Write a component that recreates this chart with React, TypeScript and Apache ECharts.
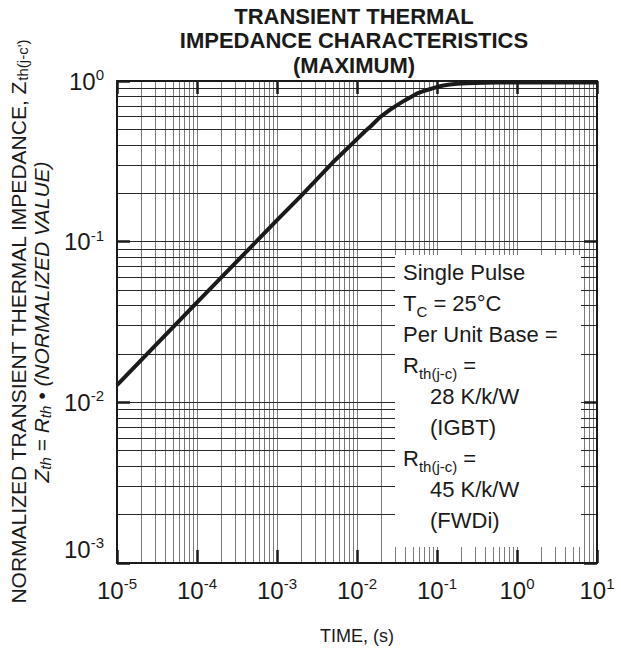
import React, { useEffect, useRef } from "react";
import * as echarts from "echarts";

// ---- data ----
const timeS = [
  1e-5, 1e-4, 1e-3, 2e-3, 5e-3, 8.6e-3, 0.0125, 0.015, 0.0194, 0.025, 0.0313, 0.04, 0.0557, 0.07, 0.099,
  0.12, 0.145, 0.18, 0.235, 0.3, 0.4, 0.61, 1, 10,
];
const zthNorm = [
  0.0128, 0.0419, 0.136, 0.193, 0.312, 0.405, 0.485, 0.525, 0.596, 0.655, 0.705, 0.76, 0.834, 0.87, 0.917,
  0.937, 0.95, 0.96, 0.967, 0.971, 0.975, 0.978, 0.98, 0.98,
];

const xMin = 1e-5;
const xMax = 10;
const yMin = 1e-3;
const yMax = 1;
const xDecadeExps = [-5, -4, -3, -2, -1, 0];
const yDecadeExps = [-3, -2, -1];
const gridMultipliers = [1, 2, 3, 4, 5, 6, 7, 8, 9];

const titleLines = ["TRANSIENT THERMAL", "IMPEDANCE CHARACTERISTICS", "(MAXIMUM)"];
const xAxisName = "TIME, (s)";

const FONT = "'Liberation Sans', Arial, Helvetica, sans-serif";
const INK = "#1a1a1a";

function expOf(v: number) {
  return Math.round(Math.log10(v));
}

function gridValues(exps: number[], lo: number, hi: number) {
  const out: number[] = [];
  exps.forEach((e) => {
    gridMultipliers.forEach((m) => {
      const v = m * Math.pow(10, e);
      if (v > lo * 1.0001 && v < hi * 0.9999) out.push(v);
    });
  });
  return out;
}

export default function App() {
  const ref = useRef<HTMLDivElement>(null);

  useEffect(() => {
    if (!ref.current) return;
    const chart = echarts.init(ref.current, undefined, { renderer: "svg" });

    const labelRich = {
      b: { fontSize: 24, lineHeight: 28, color: INK, fontFamily: FONT },
      s: { fontSize: 15, lineHeight: 15, color: INK, fontFamily: FONT, verticalAlign: "top" },
      gap: { fontSize: 10, lineHeight: 28, color: INK, fontFamily: FONT },
    };

    const vLines = gridValues(xDecadeExps, xMin, xMax).map((v) => ({
      xAxis: v,
      lineStyle: { color: "#7a7a7a", width: 1, type: "solid" },
    }));
    const hLines = gridValues(yDecadeExps, yMin, yMax).map((v) => ({
      yAxis: v,
      lineStyle: { color: "#2a2a2a", width: 1, type: "solid" },
    }));

    const commonX = {
      type: "log",
      logBase: 10,
      min: xMin,
      max: xMax,
      splitNumber: 6,
      z: 4,
      splitLine: { show: false },
      minorTick: { show: false },
      axisLine: { show: true, lineStyle: { color: INK, width: 2 } },
      axisTick: { show: true, inside: true, length: 13, lineStyle: { color: INK, width: 2.5 } },
    };
    const commonY = {
      type: "log",
      logBase: 10,
      min: yMin,
      max: yMax,
      splitNumber: 3,
      z: 4,
      splitLine: { show: false },
      minorTick: { show: false },
      axisLine: { show: true, lineStyle: { color: INK, width: 2 } },
      axisTick: { show: true, inside: true, length: 13, lineStyle: { color: INK, width: 2.5 } },
    };

    const legendText = [
      "{t|Single Pulse}",
      "{t|T}{sub|C}{t| = 25°C}",
      "{t|Per Unit Base =}",
      "{t|R}{sub|th(j-c)}{t| =}",
      "{ind|28 K/k/W}",
      "{ind|(IGBT)}",
      "{t|R}{sub|th(j-c)}{t| =}",
      "{ind|45 K/k/W}",
      "{ind|(FWDi)}",
    ].join("\n");

    chart.setOption({
      animation: false,
      backgroundColor: "#ffffff",
      textStyle: { fontFamily: FONT },
      grid: { left: 117, top: 81, width: 480, height: 482, containLabel: false },
      xAxis: [
        {
          ...commonX,
          position: "bottom",
          name: xAxisName,
          nameLocation: "middle",
          nameGap: 64,
          nameTextStyle: { fontSize: 18, color: INK, fontFamily: FONT },
          axisLabel: {
            show: true,
            margin: 13,
            formatter: (v: number) => `{b|10}{s|${expOf(v)}}`,
            rich: labelRich,
          },
        },
        {
          ...commonX,
          position: "top",
          axisLabel: { show: false },
        },
      ],
      yAxis: [
        {
          ...commonY,
          position: "left",
          name:
            "{n|NORMALIZED TRANSIENT THERMAL IMPEDANCE, Z}{ns|th(j-c')}\n" +
            "{i|Z}{is|th}{i| = R}{is|th}{i| • (NORMALIZED VALUE)}",
          nameLocation: "middle",
          nameRotate: 90,
          nameGap: 64,
          nameTextStyle: {
            rich: {
              n: { fontSize: 21, lineHeight: 23, color: INK, fontFamily: FONT, align: "center" },
              ns: { fontSize: 15, lineHeight: 12, color: INK, fontFamily: FONT, align: "center", verticalAlign: "bottom" },
              i: { fontSize: 21, lineHeight: 23, color: INK, fontFamily: FONT, fontStyle: "italic", align: "center" },
              is: { fontSize: 15, lineHeight: 12, color: INK, fontFamily: FONT, fontStyle: "italic", align: "center", verticalAlign: "bottom" },
            },
          },
          axisLabel: {
            show: true,
            margin: 13,
            formatter: (v: number) => {
              const e = expOf(v);
              return e === -3 ? `{b|10}{s|${e}}\n{gap| }` : `{b|10}{s|${e}}`;
            },
            rich: labelRich,
          },
        },
        {
          ...commonY,
          position: "right",
          axisLabel: { show: false },
        },
      ],
      graphic: [
        {
          type: "text",
          x: 354,
          y: 4,
          z: 10,
          style: {
            text: titleLines.join("\n"),
            fontFamily: FONT,
            fontSize: 22,
            fontWeight: "bold",
            lineHeight: 24.6,
            fill: INK,
            align: "center",
            verticalAlign: "top",
          },
        },
        {
          type: "rect",
          z: 6,
          shape: { x: 395, y: 255, width: 186, height: 292 },
          style: { fill: "#ffffff", stroke: "none" },
        },
        {
          type: "text",
          x: 403,
          y: 257,
          z: 7,
          style: {
            text: legendText,
            fontFamily: FONT,
            fill: INK,
            align: "left",
            verticalAlign: "top",
            rich: {
              t: { fontSize: 22, lineHeight: 31, fill: INK, fontFamily: FONT },
              sub: { fontSize: 15, lineHeight: 12, fill: INK, fontFamily: FONT, verticalAlign: "bottom" },
              ind: { fontSize: 22, lineHeight: 31, fill: INK, fontFamily: FONT, padding: [0, 0, 0, 27] },
            },
          },
        },
      ],
      series: [
        {
          type: "line",
          name: "grid",
          xAxisIndex: 0,
          yAxisIndex: 0,
          data: [],
          silent: true,
          markLine: {
            z: 1,
            silent: true,
            animation: false,
            precision: 12,
            symbol: ["none", "none"],
            label: { show: false },
            data: [...vLines, ...hLines],
          },
        },
        {
          type: "line",
          name: "Zth",
          xAxisIndex: 0,
          yAxisIndex: 0,
          z: 3,
          data: timeS.map((t, i) => [t, zthNorm[i]]),
          showSymbol: false,
          symbol: "none",
          smooth: false,
          lineStyle: { color: INK, width: 4, join: "round" },
        },
      ],
    });

    return () => chart.dispose();
  }, []);

  return (
    <div
      ref={ref}
      style={{ position: "fixed", left: 0, top: 0, width: 621, height: 668, background: "#fff" }}
    />
  );
}
